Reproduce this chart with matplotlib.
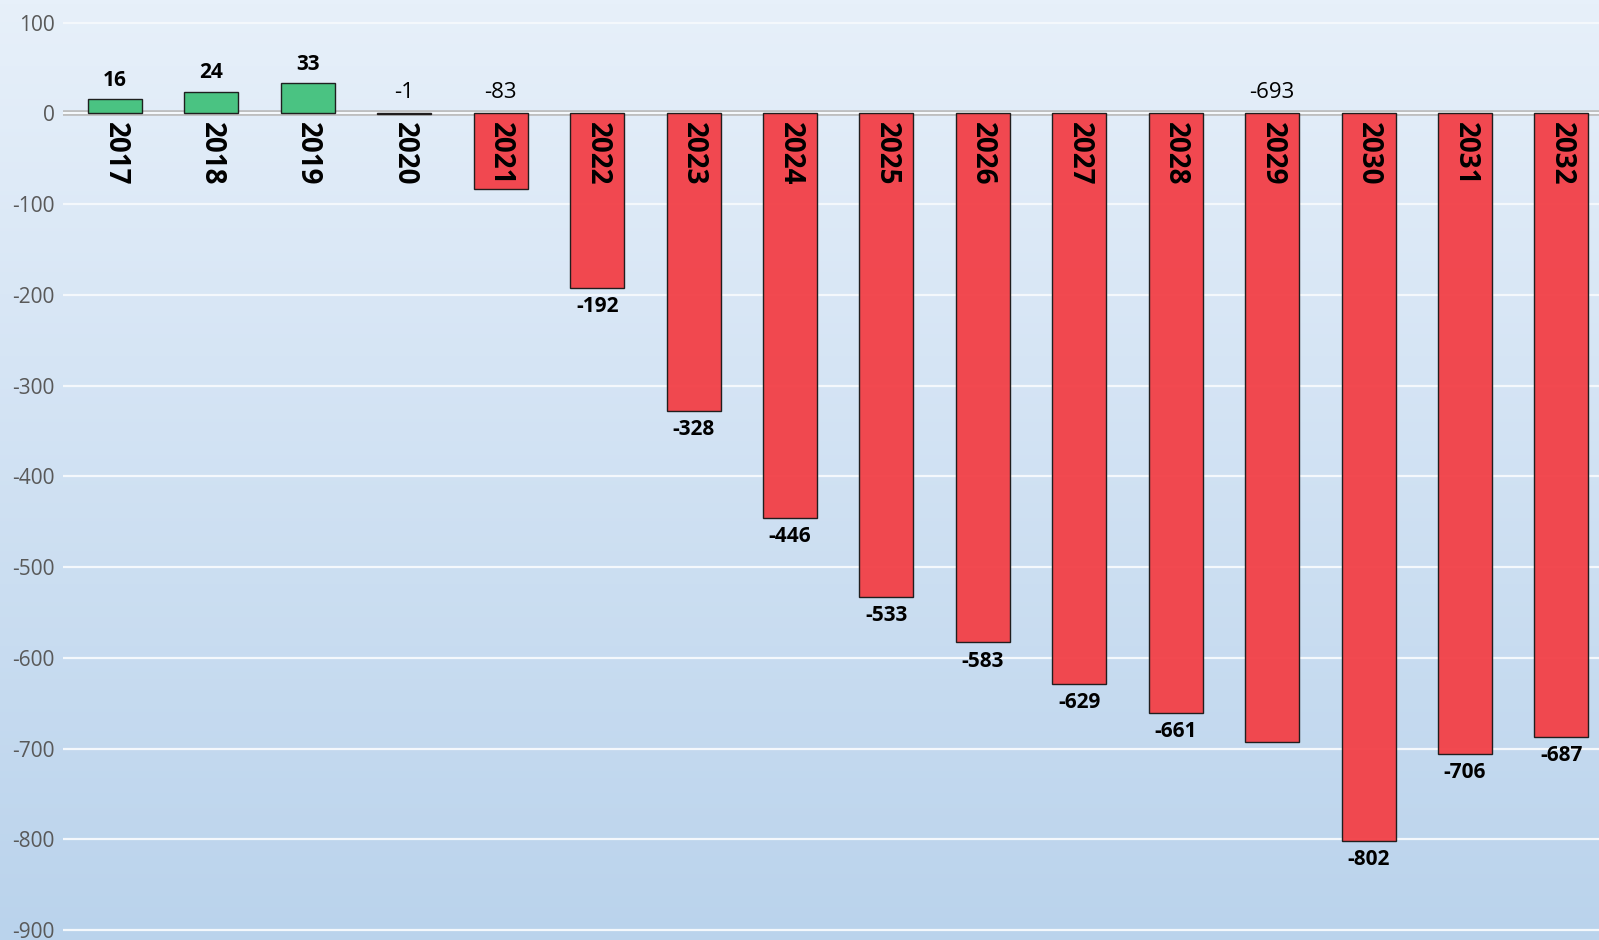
import matplotlib.pyplot as plt
import numpy as np

plt.rcParams['font.family'] = ['Open Sans', 'DejaVu Sans']
plt.rcParams['axes.unicode_minus'] = False

years = ['2017', '2018', '2019', '2020', '2021', '2022', '2023', '2024',
         '2025', '2026', '2027', '2028', '2029', '2030', '2031', '2032']
values = [16, 24, 33, -1, -83, -192, -328, -446,
          -533, -583, -629, -661, -693, -802, -706, -687]
# labels that sit above the zero line in plain weight
top_labels = ['2020', '2021', '2029']

fig = plt.figure(figsize=(15.99, 9.40), dpi=100)

# background gradient
bg = fig.add_axes([0, 0, 1, 1], zorder=-10)
grad = np.linspace(0, 1, 256).reshape(-1, 1)
top = np.array([231, 240, 250]) / 255
bot = np.array([186, 211, 236]) / 255
img = top + (bot - top) * grad[:, :, None]
bg.imshow(img, aspect='auto', extent=[0, 1, 0, 1])
bg.axis('off')

ax = fig.add_axes([63 / 1599, 0, 1 - 63 / 1599, 1])
ax.set_facecolor('none')

x = np.arange(len(years))
colors = ['#45C27E' if v > 0 else '#F2434A' for v in values]
ax.bar(x, values, width=0.56, color=colors, edgecolor='#1a1a1a',
       linewidth=1.0, alpha=0.97, zorder=2)

ax.set_ylim(-911, 125)
ax.set_xlim(-0.54, len(years) - 0.61)
ax.set_yticks(range(-900, 101, 100))
ax.grid(axis='y', color='#F4F8FC', linewidth=1.6, zorder=1)
ax.axhline(0, color='#B8B8B8', linewidth=4, zorder=1.5)
ax.set_xticks([])
ax.tick_params(axis='y', length=0, labelsize=15, labelcolor='#595959', pad=6)
for s in ax.spines.values():
    s.set_visible(False)

for xi, yr, v in zip(x, years, values):
    ax.text(xi, -9, yr, rotation=-90, ha='center', va='top',
            fontsize=20, fontweight='bold', color='black', zorder=3)
    if yr in top_labels:
        ax.text(xi, 11, str(v), ha='center', va='bottom', fontsize=16,
                color='black', zorder=3)
    elif v > 0:
        ax.text(xi, v + 9, str(v), ha='center', va='bottom', fontsize=15,
                fontweight='bold', color='black', zorder=3)
    else:
        ax.text(xi, v - 9, str(v), ha='center', va='top', fontsize=15,
                fontweight='bold', color='black', zorder=3)

fig.savefig('out.png', dpi=100)
